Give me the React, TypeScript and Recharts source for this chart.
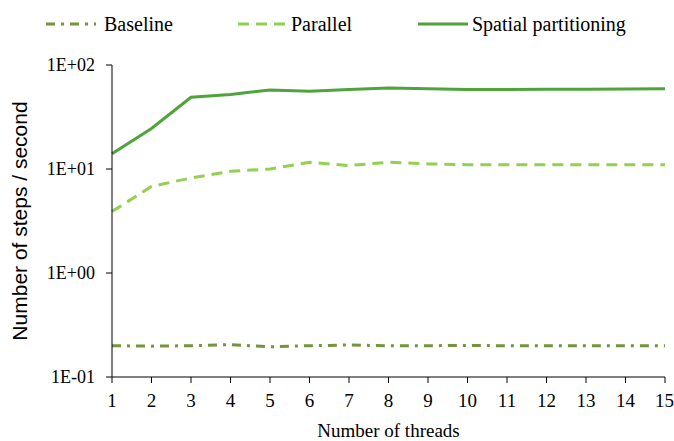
import { LineChart, Line, XAxis, YAxis } from "recharts";

const threads = [1, 2, 3, 4, 5, 6, 7, 8, 9, 10, 11, 12, 13, 14, 15];
const baseline = [0.2, 0.198, 0.2, 0.205, 0.195, 0.2, 0.203, 0.2, 0.2, 0.201, 0.2, 0.2, 0.2, 0.2, 0.2];
const parallel = [3.9, 6.8, 8.2, 9.5, 10.0, 11.6, 10.8, 11.6, 11.2, 11.0, 11.0, 11.0, 11.0, 11.0, 11.0];
const spatial = [14, 24.5, 49, 52, 57.5, 56, 58, 60, 59, 58, 58, 58.3, 58.5, 58.8, 59];
const yTicks = [0.1, 1, 10, 100];

const series = [
  { key: "baseline", name: "Baseline", color: "#77933c", dash: "9 6 3 6", lx: 46, tx: 104 },
  { key: "parallel", name: "Parallel", color: "#92d050", dash: "11 7", lx: 238, tx: 291 },
  { key: "spatial", name: "Spatial partitioning", color: "#4ea43a", dash: undefined, lx: 418, tx: 472 },
];

const data = threads.map((t, i) => ({
  t,
  baseline: baseline[i],
  parallel: parallel[i],
  spatial: spatial[i],
}));

const font = '"Liberation Serif", "Times New Roman", serif';
const sans = '"Liberation Sans", Arial, sans-serif';

function fmtExp(v: number) {
  const e = Math.round(Math.log10(v));
  return "1E" + (e < 0 ? "-" : "+") + String(Math.abs(e)).padStart(2, "0");
}

export default function App() {
  return (
    <div style={{ position: "absolute", left: 0, top: 0, width: 674, height: 441, background: "#fff", fontFamily: font }}>
      <svg width={674} height={50} style={{ position: "absolute", left: 0, top: 0 }}>
        {series.map((s) => (
          <g key={s.key}>
            <line x1={s.lx} x2={s.lx + 50} y1={24} y2={24} stroke={s.color} strokeWidth={3} strokeDasharray={s.dash} />
            <text x={s.tx} y={31} fontSize={20} fontFamily={font} fill="#000">{s.name}</text>
          </g>
        ))}
      </svg>
      <LineChart width={674} height={441} data={data} margin={{ top: 65, right: 9, bottom: 0, left: 0 }}>
        <XAxis
          dataKey="t"
          type="number"
          domain={[1, 15]}
          ticks={threads}
          height={64}
          stroke="#000"
          tickSize={6}
          tickMargin={11}
          tick={{ fill: "#000", fontSize: 19, fontFamily: font }}
          label={{ value: "Number of threads", position: "insideBottom", offset: 4, fill: "#000", fontSize: 19, fontFamily: font }}
        />
        <YAxis
          scale="log"
          domain={[0.1, 100]}
          ticks={yTicks}
          allowDataOverflow
          width={112}
          stroke="#000"
          tickSize={6}
          tickMargin={11}
          tickFormatter={fmtExp}
          tick={{ fill: "#000", fontSize: 18, fontFamily: font }}
          label={{ value: "Number of steps / second", angle: -90, position: "insideLeft", offset: 20, fill: "#000", fontSize: 21, fontFamily: sans, style: { textAnchor: "middle" } }}
        />
        {series.map((s) => (
          <Line
            key={s.key}
            dataKey={s.key}
            name={s.name}
            type="linear"
            stroke={s.color}
            strokeWidth={3}
            strokeDasharray={s.dash}
            dot={false}
            isAnimationActive={false}
          />
        ))}
      </LineChart>
    </div>
  );
}
